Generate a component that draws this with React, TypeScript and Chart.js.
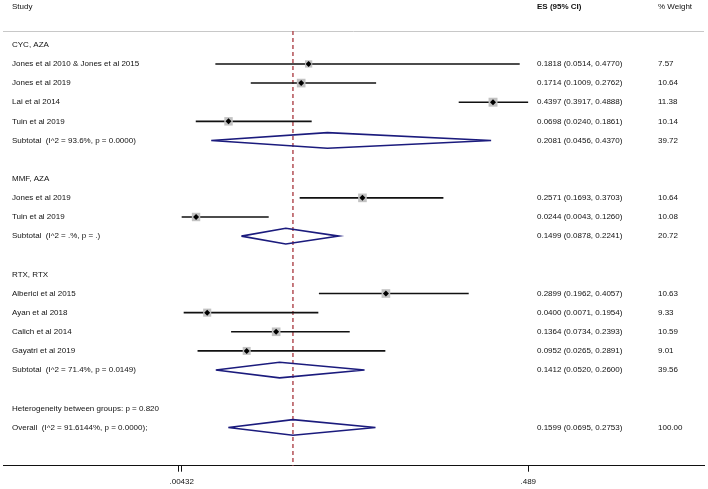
import React, { useEffect, useRef } from 'react';
import { Chart, registerables } from 'chart.js';

Chart.register(...registerables);

// ---- data ----
const rowLabels = [
  'CYC, AZA',
  'Jones et al 2010 & Jones et al 2015',
  'Jones et al 2019',
  'Lai et al 2014',
  'Tuin et al 2019',
  'Subtotal  (I^2 = 93.6%, p = 0.0000)',
  '',
  'MMF, AZA',
  'Jones et al 2019',
  'Tuin et al 2019',
  'Subtotal  (I^2 = .%, p = .)',
  '',
  'RTX, RTX',
  'Alberici et al 2015',
  'Ayan et al 2018',
  'Calich et al 2014',
  'Gayatri et al 2019',
  'Subtotal  (I^2 = 71.4%, p = 0.0149)',
  '',
  'Heterogeneity between groups: p = 0.820',
  'Overall  (I^2 = 91.6144%, p = 0.0000);',
];

const studyRows = [1, 2, 3, 4, 8, 9, 13, 14, 15, 16];
const studyES = [0.1818, 0.1714, 0.4397, 0.0698, 0.2571, 0.0244, 0.2899, 0.04, 0.1364, 0.0952];
const studyLo = [0.0514, 0.1009, 0.3917, 0.024, 0.1693, 0.0043, 0.1962, 0.0071, 0.0734, 0.0265];
const studyHi = [0.477, 0.2762, 0.4888, 0.1861, 0.3703, 0.126, 0.4057, 0.1954, 0.2393, 0.2891];
const studyWeight = [7.57, 10.64, 11.38, 10.14, 10.64, 10.08, 10.63, 9.33, 10.59, 9.01];

const pooledRows = [5, 10, 17, 20];
const pooledES = [0.2081, 0.1499, 0.1412, 0.1599];
const pooledLo = [0.0456, 0.0878, 0.052, 0.0695];
const pooledHi = [0.437, 0.2241, 0.26, 0.2753];
const pooledWeight = [39.72, 20.72, 39.56, 100.0];

const overallES = 0.1599;
const tickValues = [0, 0.00432, 0.489];
const tickLabels = ['', '.00432', '.489'];

const headerStudy = 'Study';
const headerES = 'ES (95% CI)';
const headerWeight = '% Weight';

// ---- layout / style constants ----
const W = 708;
const H = 489;
const FONT = '"Liberation Sans", Arial, Helvetica, sans-serif';
const NAVY = '#1b1b7d';
const LINE_TOP_ROW = -0.72;
const AXIS_ROW = 22;
const DIAMOND_HALF = 0.41;

const fmt4 = (v: number) => v.toFixed(4);

export default function App() {
  const ref = useRef<HTMLCanvasElement | null>(null);

  useEffect(() => {
    if (!ref.current) return;

    const datasets: any[] = [];

    // black centre markers
    datasets.push({
      type: 'scatter',
      data: studyRows.map((r, i) => ({ x: studyES[i], y: r })),
      pointStyle: 'rectRot',
      pointRadius: 3,
      pointBackgroundColor: '#000',
      pointBorderWidth: 0,
      clip: false,
      order: 0,
    });
    // grey weight boxes
    datasets.push({
      type: 'scatter',
      data: studyRows.map((r, i) => ({ x: studyES[i], y: r })),
      pointStyle: 'rect',
      pointRadius: studyWeight.map((w) => (2.65 * Math.sqrt(w)) / Math.SQRT2),
      pointBackgroundColor: '#c2c2c2',
      pointBorderWidth: 0,
      clip: false,
      order: 1,
    });
    // confidence interval lines
    studyRows.forEach((r, i) => {
      datasets.push({
        type: 'line',
        data: [
          { x: studyLo[i], y: r },
          { x: studyHi[i], y: r },
        ],
        borderColor: '#111',
        borderWidth: 1.6,
        pointRadius: 0,
        fill: false,
        clip: false,
        order: 2,
      });
    });
    // pooled diamonds
    pooledRows.forEach((r, i) => {
      datasets.push({
        type: 'line',
        data: [
          { x: pooledLo[i], y: r },
          { x: pooledES[i], y: r - DIAMOND_HALF },
          { x: pooledHi[i], y: r },
          { x: pooledES[i], y: r + DIAMOND_HALF },
          { x: pooledLo[i], y: r },
        ],
        borderColor: NAVY,
        borderWidth: 1.6,
        borderJoinStyle: 'miter',
        pointRadius: 0,
        fill: false,
        clip: false,
        order: 3,
      });
    });
    // overall dashed reference line
    datasets.push({
      type: 'line',
      data: [
        { x: overallES, y: LINE_TOP_ROW },
        { x: overallES, y: AXIS_ROW },
      ],
      borderColor: '#b34f55',
      borderWidth: 1.5,
      borderDash: [4, 3],
      pointRadius: 0,
      fill: false,
      clip: false,
      order: 5,
    });

    const textPlugin = {
      id: 'forestText',
      beforeDatasetsDraw(chart: any) {
        const { ctx, chartArea, scales } = chart;
        const y = scales.y;
        ctx.save();
        ctx.strokeStyle = '#c8c8c8';
        ctx.lineWidth = 1;
        const ly = Math.round(y.getPixelForValue(LINE_TOP_ROW)) + 0.5;
        ctx.beginPath();
        ctx.moveTo(chartArea.left, ly);
        ctx.lineTo(chartArea.right, ly);
        ctx.stroke();
        ctx.restore();
      },
      afterDatasetsDraw(chart: any) {
        const { ctx, scales } = chart;
        const y = scales.y;
        ctx.save();
        ctx.fillStyle = '#111';
        ctx.textBaseline = 'middle';
        ctx.textAlign = 'left';
        ctx.font = `8px ${FONT}`;
        const xl = 12;
        const xes = 537;
        const xw = 658;
        ctx.fillText(headerStudy, xl, y.getPixelForValue(-2));
        ctx.fillText(headerWeight, xw, y.getPixelForValue(-2));
        ctx.font = `bold 8px ${FONT}`;
        ctx.fillText(headerES, xes, y.getPixelForValue(-2));
        ctx.font = `8px ${FONT}`;
        rowLabels.forEach((lab, r) => {
          if (lab) ctx.fillText(lab, xl, y.getPixelForValue(r));
        });
        studyRows.forEach((r, i) => {
          const py = y.getPixelForValue(r);
          ctx.fillText(`${fmt4(studyES[i])} (${fmt4(studyLo[i])}, ${fmt4(studyHi[i])})`, xes, py);
          ctx.fillText(studyWeight[i].toFixed(2), xw, py);
        });
        pooledRows.forEach((r, i) => {
          const py = y.getPixelForValue(r);
          ctx.fillText(`${fmt4(pooledES[i])} (${fmt4(pooledLo[i])}, ${fmt4(pooledHi[i])})`, xes, py);
          ctx.fillText(pooledWeight[i].toFixed(2), xw, py);
        });
        ctx.restore();
      },
    };

    const chart = new Chart(ref.current, {
      type: 'scatter',
      data: { datasets },
      options: {
        animation: false,
        responsive: false,
        devicePixelRatio: 1,
        layout: { autoPadding: false, padding: { left: 3, right: 4, top: 0, bottom: 0 } },
        plugins: { legend: { display: false }, tooltip: { enabled: false } },
        scales: {
          x: {
            type: 'linear',
            min: -0.24556,
            max: 0.73472,
            afterBuildTicks: (s: any) => {
              s.ticks = tickValues.map((v) => ({ value: v }));
            },
            afterFit: (s: any) => {
              s.height = H - 465.7;
            },
            ticks: {
              autoSkip: false,
              maxRotation: 0,
              padding: 5,
              color: '#111',
              font: { size: 8, family: FONT },
              callback: (v: any) => {
                const idx = tickValues.indexOf(Number(v));
                return idx >= 0 ? tickLabels[idx] : '';
              },
            },
            grid: {
              drawOnChartArea: false,
              drawTicks: true,
              tickLength: 6,
              tickColor: '#111',
              tickWidth: 1,
            },
            border: { display: true, color: '#111', width: 1 },
          },
          y: {
            type: 'linear',
            display: false,
            reverse: true,
            min: -2.342,
            max: AXIS_ROW,
          },
        },
      },
      plugins: [textPlugin],
    } as any);

    return () => chart.destroy();
  }, []);

  return (
    <div style={{ position: 'absolute', left: 0, top: 0, width: W, height: H, background: '#fff' }}>
      <canvas ref={ref} width={W} height={H} style={{ display: 'block', width: W, height: H }} />
    </div>
  );
}
